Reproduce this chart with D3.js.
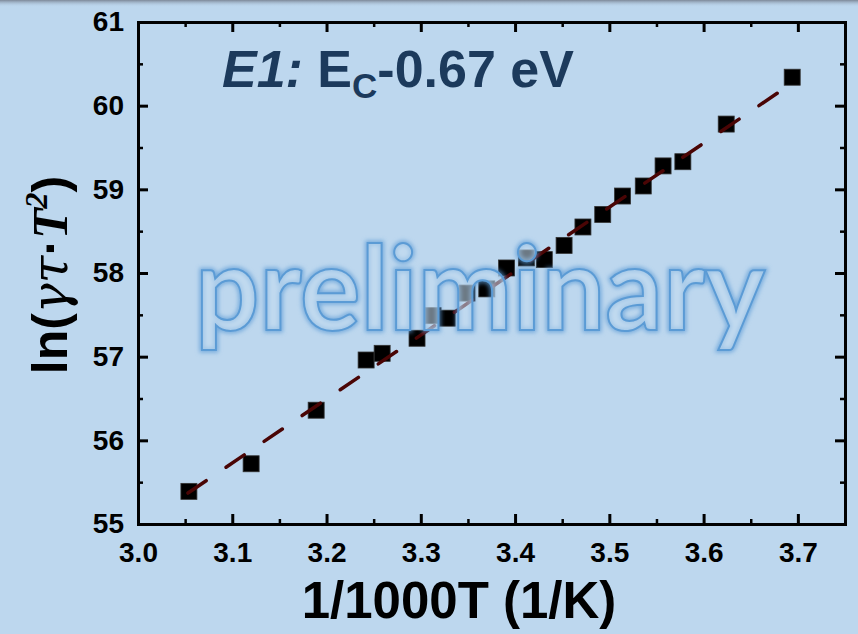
<!DOCTYPE html>
<html>
<head>
<meta charset="utf-8">
<script src="https://cdn.jsdelivr.net/npm/d3@7"></script>
<style>
  html, body { margin: 0; padding: 0; background: #bdd7ee; }
  svg { display: block; }
</style>
</head>
<body>
<script>
// Arrhenius data for trap E1: x = 1000/T (1/K), y = ln(gamma*tau*T^2)
const invT = [3.054, 3.120, 3.189, 3.242, 3.259, 3.296, 3.313, 3.328, 3.349, 3.370,
              3.391, 3.412, 3.431, 3.452, 3.472, 3.493, 3.514, 3.536, 3.557, 3.578,
              3.624, 3.694];
const lnTau = [55.39, 55.72, 56.36, 56.96, 57.04, 57.22, 57.49, 57.46, 57.76, 57.81,
               58.06, 58.18, 58.16, 58.33, 58.55, 58.70, 58.92, 59.04, 59.28, 59.33,
               59.78, 60.34];

// Linear fit endpoints
const fitX = [3.053, 3.694];
const fitY = [55.37, 60.27];

const xTicks = [3.0, 3.1, 3.2, 3.3, 3.4, 3.5, 3.6, 3.7];
const xMinor = [3.05, 3.15, 3.25, 3.35, 3.45, 3.55, 3.65, 3.75];
const yTicks = [55, 56, 57, 58, 59, 60, 61];
const yMinor = [55.5, 56.5, 57.5, 58.5, 59.5, 60.5];

const W = 858, H = 634;
const margin = { left: 138, right: 13, top: 22, bottom: 110 };
const iw = W - margin.left - margin.right;
const ih = H - margin.top - margin.bottom;

const svg = d3.select("body").append("svg")
  .attr("width", W).attr("height", H);

const defs = svg.append("defs");
const topGrad = defs.append("linearGradient")
  .attr("id", "topShade").attr("x1", 0).attr("y1", 0).attr("x2", 0).attr("y2", 1);
topGrad.append("stop").attr("offset", "0%").attr("stop-color", "#7d8898").attr("stop-opacity", 1);
topGrad.append("stop").attr("offset", "100%").attr("stop-color", "#bdd7ee").attr("stop-opacity", 0);

const glow = defs.append("filter").attr("id", "glow")
  .attr("x", "-10%").attr("y", "-20%").attr("width", "120%").attr("height", "140%");
glow.append("feGaussianBlur").attr("stdDeviation", 2.2);

svg.append("rect").attr("width", W).attr("height", H).attr("fill", "#bdd7ee");
svg.append("rect").attr("width", W).attr("height", 7).attr("fill", "url(#topShade)");

const g = svg.append("g").attr("transform", `translate(${margin.left},${margin.top})`);

const x = d3.scaleLinear().domain([3.0, 3.75]).range([0, iw]);
const y = d3.scaleLinear().domain([55, 61]).range([ih, 0]);

const tickFont = "'Liberation Sans', Arial, sans-serif";

// Data squares
const sq = 16;
g.append("g").selectAll("rect")
  .data(invT.map((v, i) => [v, lnTau[i]]))
  .join("rect")
  .attr("x", d => x(d[0]) - sq / 2)
  .attr("y", d => y(d[1]) - sq / 2)
  .attr("width", sq).attr("height", sq)
  .attr("fill", "#000")
  .attr("stroke", "#333").attr("stroke-width", 0.8);

// Fit line
g.append("path")
  .datum(fitX.map((v, i) => [v, fitY[i]]))
  .attr("d", d3.line().x(d => x(d[0])).y(d => y(d[1])))
  .attr("fill", "none")
  .attr("stroke", "#4a0505")
  .attr("stroke-width", 3.5)
  .attr("stroke-linecap", "round")
  .attr("stroke-dasharray", "22,24");

// Axes with inward ticks
function styleAxis(sel) {
  sel.select(".domain").attr("stroke", "#000").attr("stroke-width", 3).attr("stroke-linecap", "square");
  sel.selectAll(".tick line").attr("stroke", "#000").attr("stroke-width", 3);
  sel.selectAll(".tick text")
    .attr("fill", "#000")
    .style("font-family", tickFont)
    .style("font-weight", "bold")
    .style("font-size", "28px");
}
function styleMinor(sel) {
  sel.select(".domain").remove();
  sel.selectAll(".tick line").attr("stroke", "#000").attr("stroke-width", 2.5);
  sel.selectAll(".tick text").remove();
}

const fmtX = d3.format(".1f");
g.append("g").attr("transform", `translate(0,${ih})`)
  .call(d3.axisBottom(x).tickValues(xTicks).tickFormat(fmtX).tickSizeInner(-10).tickSizeOuter(0).tickPadding(18))
  .call(styleAxis);
g.append("g").attr("transform", `translate(0,${ih})`)
  .call(d3.axisBottom(x).tickValues(xMinor).tickSize(-5)).call(styleMinor);
g.append("g")
  .call(d3.axisTop(x).tickValues(xTicks).tickFormat("").tickSizeInner(-10).tickSizeOuter(0))
  .call(styleAxis);
g.append("g").call(d3.axisTop(x).tickValues(xMinor).tickSize(-5)).call(styleMinor);

g.append("g")
  .call(d3.axisLeft(y).tickValues(yTicks).tickFormat(d3.format("d")).tickSizeInner(-10).tickSizeOuter(0).tickPadding(14))
  .call(styleAxis);
g.append("g").call(d3.axisLeft(y).tickValues(yMinor).tickSize(-5)).call(styleMinor);
g.append("g").attr("transform", `translate(${iw},0)`)
  .call(d3.axisRight(y).tickValues(yTicks).tickFormat("").tickSizeInner(-10).tickSizeOuter(0))
  .call(styleAxis);
g.append("g").attr("transform", `translate(${iw},0)`)
  .call(d3.axisRight(y).tickValues(yMinor).tickSize(-5)).call(styleMinor);

// X axis title
svg.append("text")
  .attr("x", 459).attr("y", 618)
  .attr("text-anchor", "middle")
  .style("font-family", tickFont).style("font-weight", "bold").style("font-size", "51px")
  .attr("fill", "#000")
  .text("1/1000T (1/K)");

// Y axis title: ln(γτ·T²)
const yt = svg.append("text")
  .attr("transform", `translate(67,${margin.top + ih / 2 + 2}) rotate(-90)`)
  .attr("text-anchor", "middle")
  .style("font-family", tickFont).style("font-weight", "bold").style("font-size", "50px")
  .attr("fill", "#000");
yt.append("tspan").text("ln(");
yt.append("tspan").style("font-family", "'DejaVu Serif', serif").style("font-style", "italic")
  .style("font-weight", "normal").text("γτ");
yt.append("tspan").text("·");
yt.append("tspan").style("font-family", "'Liberation Serif', serif").style("font-style", "italic").text("T");
yt.append("tspan").attr("dy", -20).style("font-size", "32px")
  .style("font-family", "'Liberation Serif', serif").style("font-style", "italic").text("2");
yt.append("tspan").attr("dy", 20).text(")");

// Panel label: E1: Ec-0.67 eV
const lab = svg.append("text")
  .attr("x", 222).attr("y", 87)
  .style("font-family", tickFont).style("font-weight", "bold").style("font-size", "52px")
  .attr("fill", "#1c3a5c");
lab.append("tspan").style("font-style", "italic").text("E1:");
lab.append("tspan").text(" E");
lab.append("tspan").attr("dy", 11).style("font-size", "35px").text("C");
lab.append("tspan").attr("dy", -11).text("-0.67 eV");

// Watermark
const wm = svg.append("g");
const wmAttrs = sel => sel
  .attr("x", 195).attr("y", 330)
  .attr("textLength", 570).attr("lengthAdjust", "spacingAndGlyphs")
  .style("font-family", "Lato, 'Open Sans', sans-serif")
  .style("font-weight", "bold")
  .style("font-size", "116px")
  .text("preliminary");
wm.append("text").call(wmAttrs)
  .attr("fill", "none").attr("stroke", "#5b9bd5").attr("stroke-width", 5)
  .attr("stroke-opacity", 0.75).attr("filter", "url(#glow)");
wm.append("text").call(wmAttrs)
  .attr("fill", "#c4dcf1").attr("fill-opacity", 0.55)
  .attr("stroke", "#5b9bd5").attr("stroke-width", 2);
</script>
</body>
</html>
